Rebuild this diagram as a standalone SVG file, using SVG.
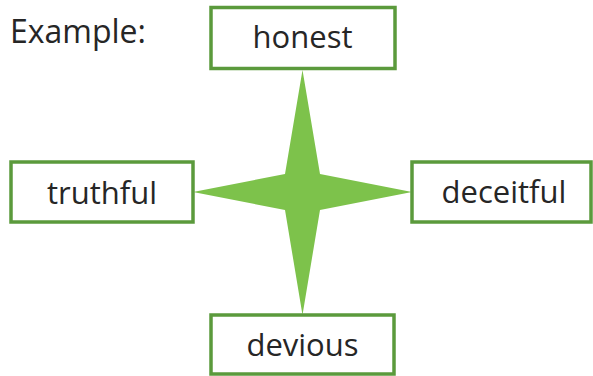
<svg xmlns="http://www.w3.org/2000/svg" width="593" height="376" viewBox="0 0 593 376">
<style>
.box{fill:#ffffff;stroke:#5b9a3c;stroke-width:3.5}
.lbl{font-family:"Open Sans","Noto Sans",sans-serif;font-size:31px;fill:#262626;text-anchor:middle}
.star{fill:#7dc24b}
</style>
<rect width="593" height="376" fill="#ffffff"/>
<text x="10" y="43" class="lbl" style="text-anchor:start;font-size:32px">Example:</text>
<g id="connectors">
<polygon class="star" points="302.5,70 320,174 412,192 320,210 302.5,315 285,210 193,192 285,174"/>
</g>
<g id="node-honest">
<rect class="box" x="211" y="7.5" width="184" height="61"/>
<text class="lbl" x="302.5" y="48">honest</text>
</g>
<g id="node-truthful">
<rect class="box" x="11" y="162" width="182" height="60"/>
<text class="lbl" x="102" y="204">truthful</text>
</g>
<g id="node-deceitful">
<rect class="box" x="412" y="162" width="179" height="60"/>
<text class="lbl" x="504" y="203">deceitful</text>
</g>
<g id="node-devious">
<rect class="box" x="211" y="315" width="183" height="59"/>
<text class="lbl" x="302.5" y="356">devious</text>
</g>
</svg>
